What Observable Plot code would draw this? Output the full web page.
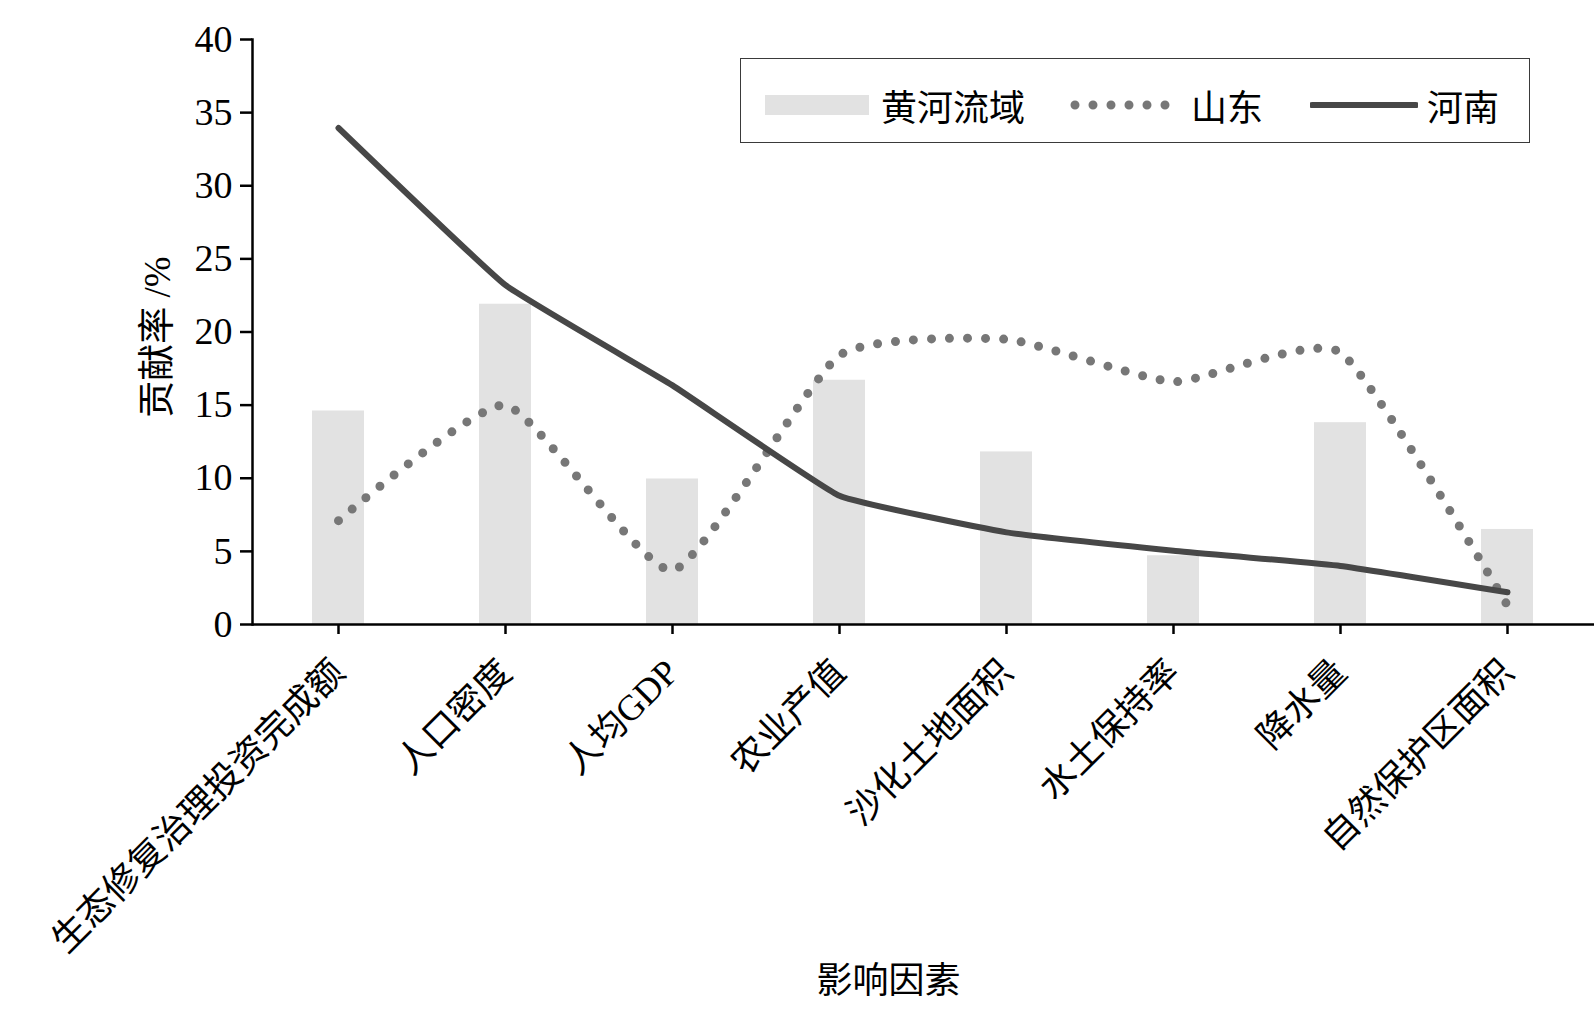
<!DOCTYPE html>
<html><head><meta charset="utf-8">
<script src="https://cdn.jsdelivr.net/npm/d3@7"></script>
<script src="https://cdn.jsdelivr.net/npm/@observablehq/plot@0.6"></script>
<style>
body{margin:0;background:#fff;}
#wrap{position:relative;width:1594px;height:1012px;overflow:hidden;}
#legend{position:absolute;left:740px;top:58px;width:790px;height:85px;border:1.6px solid #3a3a3a;background:#fff;box-sizing:border-box;}
#legend .t{position:absolute;top:46px;transform:translateY(-50%);font-family:"Noto Sans CJK SC",sans-serif;font-size:36px;line-height:1;color:#000;}
#legend .sw{position:absolute;}
</style></head><body><div id="wrap"></div>
<script>
const categories = ["生态修复治理投资完成额","人口密度","人均GDP","农业产值","沙化土地面积","水土保持率","降水量","自然保护区面积"];
const yellowRiver = [14.6, 21.9, 9.95, 16.7, 11.8, 4.7, 13.8, 6.5];
const shandong = [7.1, 15.0, 3.7, 18.4, 19.5, 16.6, 18.6, 1.3];
const henan = [33.95, 23.2, 16.35, 8.8, 6.3, 5.05, 4.0, 2.2];
const yTicks = [0, 5, 10, 15, 20, 25, 30, 35, 40];
const seriesNames = ["黄河流域", "山东", "河南"];
const xTitle = "影响因素";
const yTitle = "贡献率 /%";

const data = categories.map((c, i) => ({c, yr: yellowRiver[i], sd: shandong[i], hn: henan[i]}));

const chart = Plot.plot({
  width: 1594, height: 1012,
  marginLeft: 252, marginRight: 0, marginTop: 39, marginBottom: 388,
  style: {fontFamily: '"Liberation Serif","Noto Sans CJK SC",serif', fontSize: "34px", color: "#000", background: "#fff"},
  x: {domain: categories, paddingInner: 0.686, paddingOuter: 0.343, label: null},
  y: {domain: [0, 40], ticks: yTicks, label: null},
  marks: [
    Plot.barY(data, {x: "c", y: "yr", fill: "#e2e2e2"}),
    Plot.line(data, {x: "c", y: "sd", stroke: "#777", strokeWidth: 9, strokeDasharray: "0 18", strokeLinecap: "round", curve: "cardinal", tension: 0.5}),
    Plot.line(data, {x: "c", y: "hn", stroke: "#474747", strokeWidth: 6, curve: "cardinal", tension: 0.7}),
    Plot.ruleY([0], {stroke: "#000", strokeWidth: 2.5}),
    Plot.frame({anchor: "left", stroke: "#000", strokeWidth: 2.5}),
    Plot.axisY({ticks: yTicks, tickSize: 12, tickPadding: 8, fontSize: 38, strokeWidth: 2.5, label: null}),
    Plot.axisX({tickSize: 10, tickPadding: 32, tickRotate: -45, fontSize: 36, strokeWidth: 2.5, label: null}),
    Plot.text([xTitle], {text: d => d, frameAnchor: "bottom", dx: -35, dy: 368, fontSize: 36}),
    Plot.text([yTitle], {text: d => d, frameAnchor: "left", textAnchor: "middle", dx: -94, dy: 5, rotate: -90, fontSize: 37})
  ]
});
const wrap = document.getElementById("wrap");
wrap.appendChild(chart);

const legend = document.createElement("div");
legend.id = "legend";
legend.innerHTML = `
<div class="sw" style="left:24px;top:36px;width:104px;height:20px;background:#e2e2e2"></div>
<div class="t" style="left:140px">${seriesNames[0]}</div>
<svg class="sw" style="left:328px;top:36px" width="104" height="20"><line x1="6" x2="100" y1="10" y2="10" stroke="#777" stroke-width="9" stroke-dasharray="0 18" stroke-linecap="round"/></svg>
<div class="t" style="left:450px">${seriesNames[1]}</div>
<svg class="sw" style="left:569px;top:36px" width="108" height="20"><line x1="2" x2="106" y1="10" y2="10" stroke="#474747" stroke-width="6" stroke-linecap="round"/></svg>
<div class="t" style="left:686px">${seriesNames[2]}</div>`;
wrap.appendChild(legend);
</script>
</body></html>
